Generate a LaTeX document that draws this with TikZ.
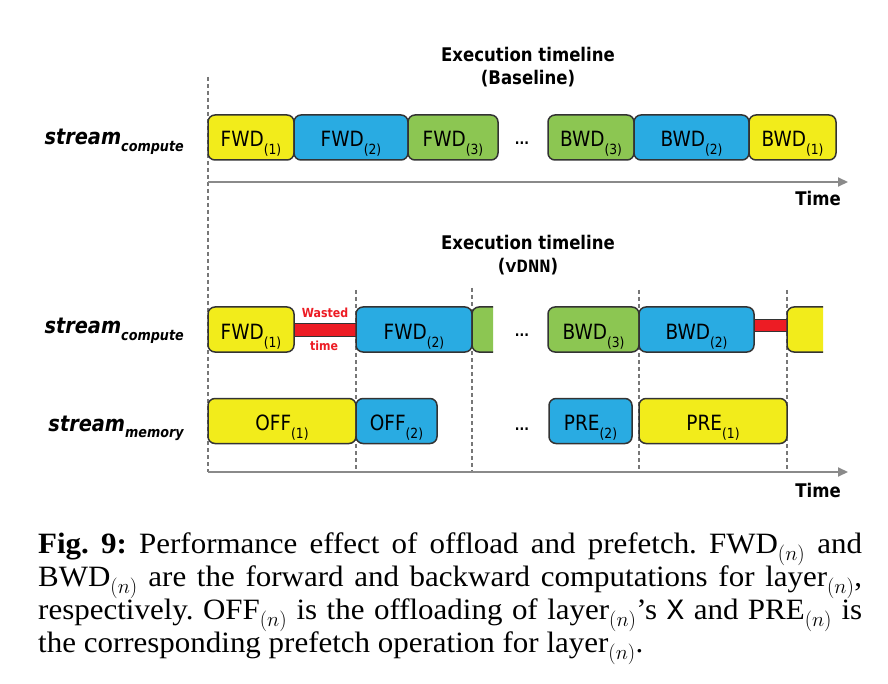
\documentclass[tikz,border=0pt]{standalone}
\usepackage{fontspec}
\usetikzlibrary{arrows.meta}
\setmainfont{Liberation Serif}
\setmonofont{Liberation Mono}
\newfontfamily\dejavu[FakeStretch=0.88]{DejaVu Sans}
\newfontfamily\capfont[FakeStretch=1.05,Ligatures=TeX]{Liberation Serif}
\DeclareMathSizes{29.5}{29.5}{21}{15}
\definecolor{opyellow}{HTML}{F2EC1B}
\definecolor{opblue}{HTML}{29ABE2}
\definecolor{opgreen}{HTML}{8CC652}
\definecolor{wastered}{HTML}{ED1C24}
\definecolor{boxline}{HTML}{333333}
\definecolor{axisgray}{HTML}{8A8A8A}
\definecolor{tickgray}{HTML}{777777}
% 带下标的操作名
\newcommand{\op}[2]{#1\raisebox{-8pt}{\fontsize{14}{14}\selectfont(#2)}}
% 带下标的流名
\newcommand{\stream}[1]{stream\raisebox{-6.5pt}{\fontsize{14.5}{14.5}\selectfont #1}}

\begin{document}
\begin{tikzpicture}[
  x=1pt, y=-1pt,
  opbox/.style={draw=boxline, line width=1.5pt, rounded corners=7pt,
    minimum height=45pt, inner sep=0pt, text height=19pt, text depth=0pt,
    font=\dejavu\fontsize{21}{21}\selectfont},
  title/.style={anchor=base, inner sep=0pt,
    font=\dejavu\bfseries\fontsize{18.8}{18.8}\selectfont},
  streamlabel/.style={anchor=base east, inner sep=0pt,
    font=\dejavu\bfseries\itshape\fontsize{22}{22}\selectfont},
  dots/.style={anchor=base, inner sep=0pt,
    font=\dejavu\bfseries\fontsize{14}{14}\selectfont},
  wastelabel/.style={anchor=base, inner sep=0pt, text=wastered,
    font=\dejavu\bfseries\fontsize{12.5}{12.5}\selectfont},
  wastebar/.style={fill=wastered, draw=boxline, line width=0.8pt},
  timeaxis/.style={draw=axisgray, line width=2pt,
    -{Triangle[length=10pt,width=9pt]}},
  mark line/.style={draw=tickgray, line width=1.2pt,
    dash pattern=on 4pt off 3pt}]
  % 画布大小
  \useasboundingbox[fill=white] (0,0) rectangle (888,684);

  % 时间轴上的点
  \coordinate (top0) at (208,77);
  \coordinate (ax1s) at (208,182);
  \coordinate (ax1e) at (848,182);
  \coordinate (ax2s) at (208,472);
  \coordinate (ax2e) at (848,472);
  \coordinate (m1t) at (356,290);
  \coordinate (m2t) at (472,288);
  \coordinate (m3t) at (639,290);
  \coordinate (m4t) at (787,290);

  % 竖直虚线
  \draw[mark line] (top0) -- (ax2s);
  \foreach \m/\x in {m1t/356, m2t/472, m3t/639, m4t/787}
    \draw[mark line] (\m) -- (\x,472);

  % 时间轴
  \draw[timeaxis] (ax1s) -- (ax1e);
  \draw[timeaxis] (ax2s) -- (ax2e);
  \node[title] (time1) at (818,206) {Time};
  \node[title] (time2) at (818,497) {Time};

  % 标题
  \node[title] (t1a) at (528,62) {Execution timeline};
  \node[title] (t1b) at (528,85) {(Baseline)};
  \node[title] (t2a) at (528,250) {Execution timeline};
  \node[title] (t2b) at (528,273) {(\texttt{vDNN})};

  % 流名
  \node[streamlabel] (sc1) at (184,145) {\stream{compute}};
  \node[streamlabel] (sc2) at (184,334) {\stream{compute}};
  \node[streamlabel] (sm2) at (184,431) {\stream{memory}};

  % Baseline: 计算流
  \node[opbox, fill=opyellow, minimum width=86pt] (f1) at (251,137.5) {\op{FWD}{1}};
  \node[opbox, fill=opblue, minimum width=114pt] (f2) at (351,137.5) {\op{FWD}{2}};
  \node[opbox, fill=opgreen, minimum width=90pt] (f3) at (453,137.5) {\op{FWD}{3}};
  \node[dots] (d1) at (522,145) {...};
  \node[opbox, fill=opgreen, minimum width=86pt] (b3) at (591,137.5) {\op{BWD}{3}};
  \node[opbox, fill=opblue, minimum width=115pt] (b2) at (691.5,137.5) {\op{BWD}{2}};
  \node[opbox, fill=opyellow, minimum width=87pt] (b1) at (792.5,137.5) {\op{BWD}{1}};

  % vDNN: 计算流
  \node[opbox, fill=opyellow, minimum width=86pt] (vf1) at (251,329.5) {\op{FWD}{1}};
  \draw[wastebar] (vf1.east |- 0,323) rectangle (356,336);
  \node[wastelabel] (w1) at (325,317) {Wasted};
  \node[wastelabel] (w2) at (324,350.5) {time};
  \node[opbox, fill=opblue, minimum width=116pt] (vf2) at (414,329.5) {\op{FWD}{2}};
  \begin{scope}
    \clip (470,300) rectangle (493,360);
    \node[opbox, fill=opgreen, minimum width=60pt] (vf3) at (502,329.5) {};
  \end{scope}
  \node[dots] (d2) at (522,337) {...};
  \node[opbox, fill=opgreen, minimum width=91pt] (vb3) at (593.5,329.5) {\op{BWD}{3}};
  \node[opbox, fill=opblue, minimum width=115pt] (vb2) at (696.5,329.5) {\op{BWD}{2}};
  \draw[wastebar] (vb2.east |- 0,319) rectangle (787,331);
  \begin{scope}
    \clip (785,300) rectangle (823,360);
    \node[opbox, fill=opyellow, minimum width=80pt] (vb1) at (827,329.5) {};
  \end{scope}

  % vDNN: 内存流
  \node[opbox, fill=opyellow, minimum width=148pt] (o1) at (282,421) {\op{OFF}{1}};
  \node[opbox, fill=opblue, minimum width=81pt] (o2) at (396.5,421) {\op{OFF}{2}};
  \node[dots] (d3) at (522,430) {...};
  \node[opbox, fill=opblue, minimum width=83pt] (p2) at (590.5,421) {\op{PRE}{2}};
  \node[opbox, fill=opyellow, minimum width=148pt] (p1) at (713,421) {\op{PRE}{1}};

  % 图注
  \node[anchor=north west, text width=824pt, align=justify, inner sep=0pt,
    font=\capfont\fontsize{29.5}{33}\selectfont\frenchspacing] (cap) at (38,533)
    {\textbf{Fig. 9:} Performance effect of offload and prefetch. FWD$_{(n)}$ and\linebreak
     BWD$_{(n)}$ are the forward and backward computations for layer$_{(n)}$,\linebreak
     respectively. OFF$_{(n)}$ is the offloading of layer$_{(n)}$’s \texttt{X} and PRE$_{(n)}$ is\linebreak
     the corresponding prefetch operation for layer$_{(n)}$.};
\end{tikzpicture}
\end{document}
